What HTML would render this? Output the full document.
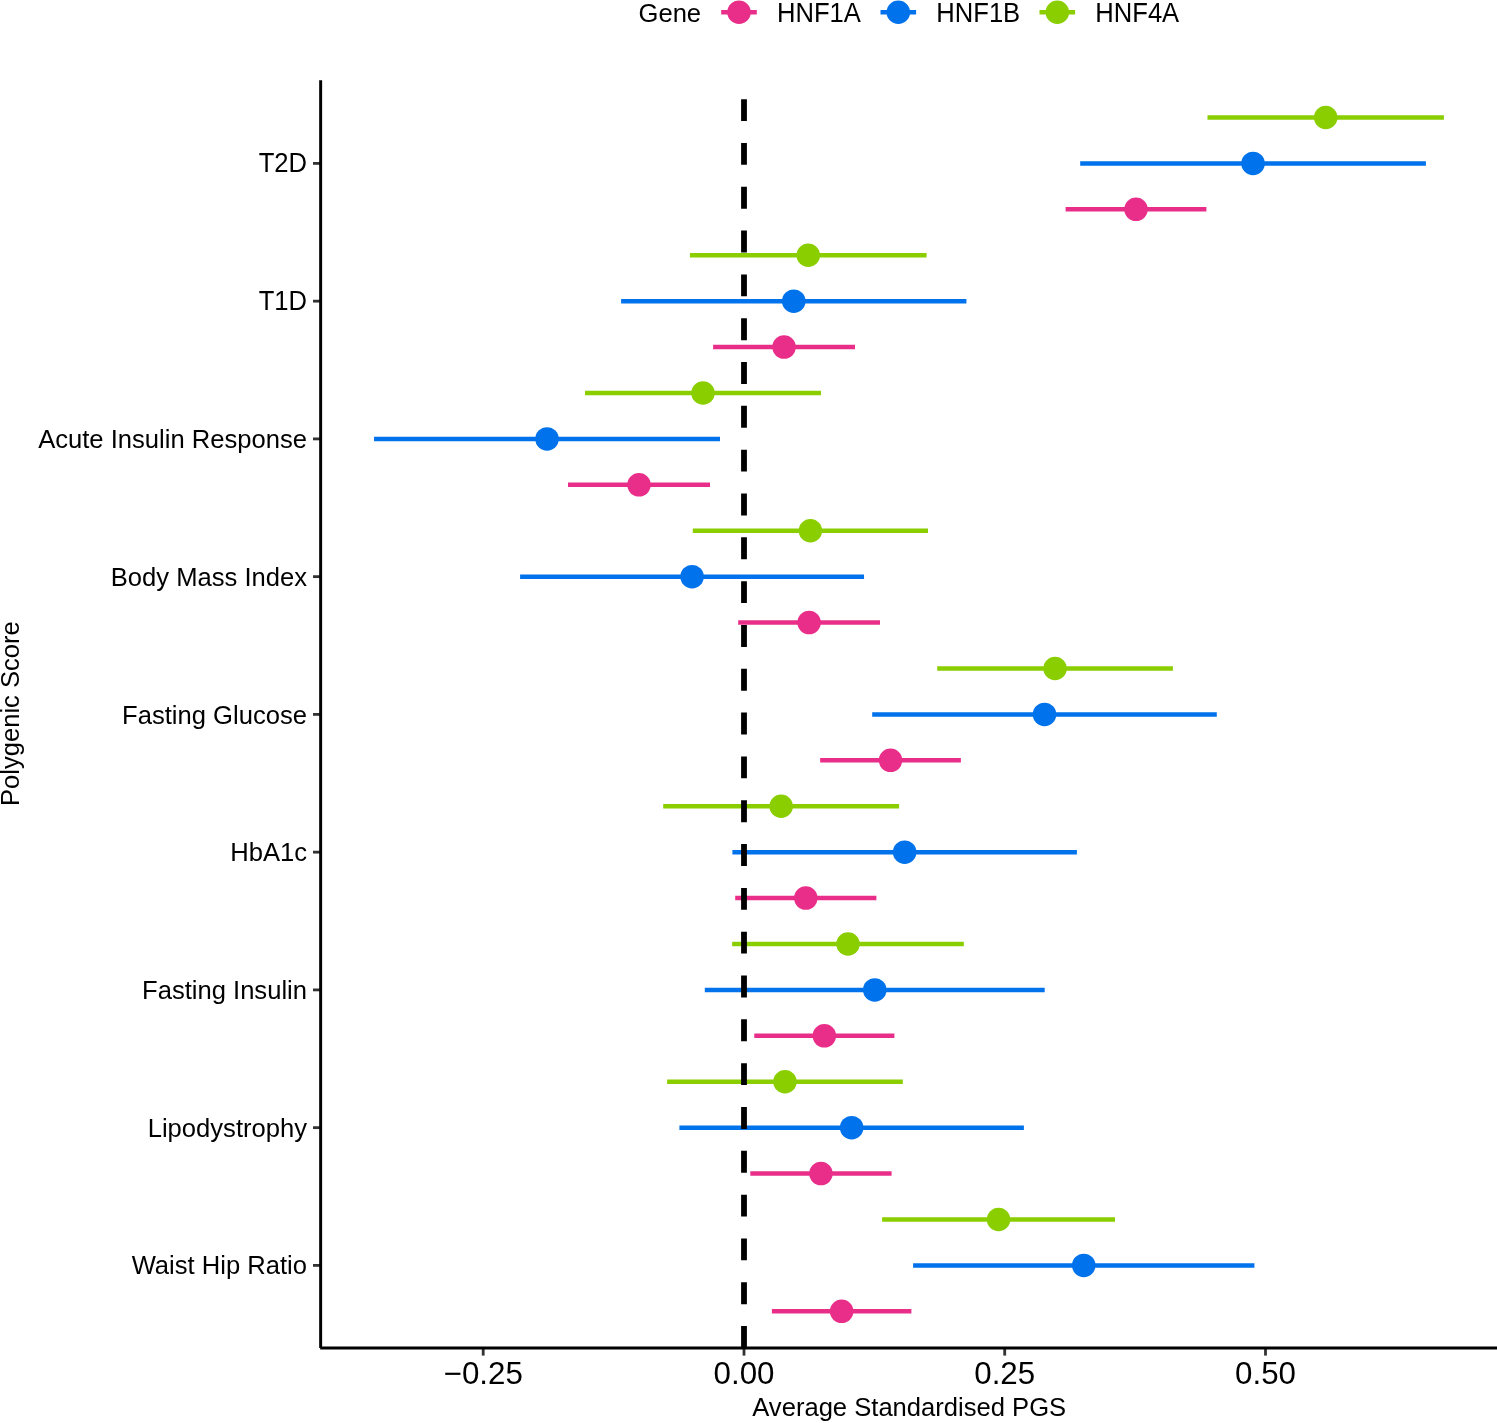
<!DOCTYPE html>
<html><head><meta charset="utf-8"><title>Polygenic Score chart</title>
<style>
html,body{margin:0;padding:0;background:#fff;}
body{width:1497px;height:1423px;overflow:hidden;}
svg{display:block;font-family:"Liberation Sans",sans-serif;will-change:transform;}
</style></head><body>
<svg width="1497" height="1423" viewBox="0 0 1497 1423">
<rect width="1497" height="1423" fill="#fff"/>
<g id="errbars">
<line x1="1207.50" y1="117.48" x2="1443.90" y2="117.48" stroke="#8ACE00" stroke-width="4.5"/>
<line x1="1080.20" y1="163.40" x2="1425.90" y2="163.40" stroke="#0072EB" stroke-width="4.5"/>
<line x1="1065.60" y1="209.32" x2="1206.40" y2="209.32" stroke="#E92E89" stroke-width="4.5"/>
<line x1="689.90" y1="255.23" x2="926.60" y2="255.23" stroke="#8ACE00" stroke-width="4.5"/>
<line x1="621.10" y1="301.15" x2="966.40" y2="301.15" stroke="#0072EB" stroke-width="4.5"/>
<line x1="713.10" y1="347.07" x2="855.00" y2="347.07" stroke="#E92E89" stroke-width="4.5"/>
<line x1="585.05" y1="392.98" x2="821.00" y2="392.98" stroke="#8ACE00" stroke-width="4.5"/>
<line x1="374.05" y1="438.90" x2="720.00" y2="438.90" stroke="#0072EB" stroke-width="4.5"/>
<line x1="568.00" y1="484.82" x2="710.00" y2="484.82" stroke="#E92E89" stroke-width="4.5"/>
<line x1="692.80" y1="530.73" x2="928.00" y2="530.73" stroke="#8ACE00" stroke-width="4.5"/>
<line x1="520.10" y1="576.65" x2="864.05" y2="576.65" stroke="#0072EB" stroke-width="4.5"/>
<line x1="738.20" y1="622.57" x2="880.00" y2="622.57" stroke="#E92E89" stroke-width="4.5"/>
<line x1="937.20" y1="668.48" x2="1172.90" y2="668.48" stroke="#8ACE00" stroke-width="4.5"/>
<line x1="872.20" y1="714.40" x2="1216.80" y2="714.40" stroke="#0072EB" stroke-width="4.5"/>
<line x1="820.15" y1="760.32" x2="960.90" y2="760.32" stroke="#E92E89" stroke-width="4.5"/>
<line x1="663.20" y1="806.23" x2="899.10" y2="806.23" stroke="#8ACE00" stroke-width="4.5"/>
<line x1="732.40" y1="852.15" x2="1076.90" y2="852.15" stroke="#0072EB" stroke-width="4.5"/>
<line x1="735.20" y1="898.07" x2="876.40" y2="898.07" stroke="#E92E89" stroke-width="4.5"/>
<line x1="732.20" y1="943.98" x2="963.80" y2="943.98" stroke="#8ACE00" stroke-width="4.5"/>
<line x1="704.80" y1="989.90" x2="1044.70" y2="989.90" stroke="#0072EB" stroke-width="4.5"/>
<line x1="754.30" y1="1035.82" x2="894.40" y2="1035.82" stroke="#E92E89" stroke-width="4.5"/>
<line x1="667.10" y1="1081.73" x2="902.80" y2="1081.73" stroke="#8ACE00" stroke-width="4.5"/>
<line x1="679.40" y1="1127.65" x2="1023.90" y2="1127.65" stroke="#0072EB" stroke-width="4.5"/>
<line x1="750.30" y1="1173.57" x2="891.60" y2="1173.57" stroke="#E92E89" stroke-width="4.5"/>
<line x1="882.10" y1="1219.48" x2="1115.00" y2="1219.48" stroke="#8ACE00" stroke-width="4.5"/>
<line x1="913.10" y1="1265.40" x2="1254.40" y2="1265.40" stroke="#0072EB" stroke-width="4.5"/>
<line x1="771.90" y1="1311.32" x2="911.40" y2="1311.32" stroke="#E92E89" stroke-width="4.5"/>
</g>
<line x1="744" y1="1348" x2="744" y2="80.2" stroke="#000" stroke-width="5.8" stroke-dasharray="21.91 21.91"/>
<g id="points">
<circle cx="1325.70" cy="117.48" r="11.75" fill="#8ACE00"/>
<circle cx="1253.05" cy="163.40" r="11.75" fill="#0072EB"/>
<circle cx="1136.00" cy="209.32" r="11.75" fill="#E92E89"/>
<circle cx="808.25" cy="255.23" r="11.75" fill="#8ACE00"/>
<circle cx="793.75" cy="301.15" r="11.75" fill="#0072EB"/>
<circle cx="784.05" cy="347.07" r="11.75" fill="#E92E89"/>
<circle cx="703.02" cy="392.98" r="11.75" fill="#8ACE00"/>
<circle cx="547.02" cy="438.90" r="11.75" fill="#0072EB"/>
<circle cx="639.00" cy="484.82" r="11.75" fill="#E92E89"/>
<circle cx="810.40" cy="530.73" r="11.75" fill="#8ACE00"/>
<circle cx="692.08" cy="576.65" r="11.75" fill="#0072EB"/>
<circle cx="809.10" cy="622.57" r="11.75" fill="#E92E89"/>
<circle cx="1055.05" cy="668.48" r="11.75" fill="#8ACE00"/>
<circle cx="1044.50" cy="714.40" r="11.75" fill="#0072EB"/>
<circle cx="890.52" cy="760.32" r="11.75" fill="#E92E89"/>
<circle cx="781.15" cy="806.23" r="11.75" fill="#8ACE00"/>
<circle cx="904.65" cy="852.15" r="11.75" fill="#0072EB"/>
<circle cx="805.80" cy="898.07" r="11.75" fill="#E92E89"/>
<circle cx="848.00" cy="943.98" r="11.75" fill="#8ACE00"/>
<circle cx="874.75" cy="989.90" r="11.75" fill="#0072EB"/>
<circle cx="824.35" cy="1035.82" r="11.75" fill="#E92E89"/>
<circle cx="784.95" cy="1081.73" r="11.75" fill="#8ACE00"/>
<circle cx="851.65" cy="1127.65" r="11.75" fill="#0072EB"/>
<circle cx="820.95" cy="1173.57" r="11.75" fill="#E92E89"/>
<circle cx="998.55" cy="1219.48" r="11.75" fill="#8ACE00"/>
<circle cx="1083.75" cy="1265.40" r="11.75" fill="#0072EB"/>
<circle cx="841.65" cy="1311.32" r="11.75" fill="#E92E89"/>
</g>
<g stroke="#333" stroke-width="2.8">
<line x1="313" y1="163.40" x2="320.65" y2="163.40"/>
<line x1="313" y1="301.15" x2="320.65" y2="301.15"/>
<line x1="313" y1="438.90" x2="320.65" y2="438.90"/>
<line x1="313" y1="576.65" x2="320.65" y2="576.65"/>
<line x1="313" y1="714.40" x2="320.65" y2="714.40"/>
<line x1="313" y1="852.15" x2="320.65" y2="852.15"/>
<line x1="313" y1="989.90" x2="320.65" y2="989.90"/>
<line x1="313" y1="1127.65" x2="320.65" y2="1127.65"/>
<line x1="313" y1="1265.40" x2="320.65" y2="1265.40"/>
<line x1="483.2" y1="1348" x2="483.2" y2="1355.6"/>
<line x1="744.0" y1="1348" x2="744.0" y2="1355.6"/>
<line x1="1004.7" y1="1348" x2="1004.7" y2="1355.6"/>
<line x1="1265.5" y1="1348" x2="1265.5" y2="1355.6"/>
</g>
<line x1="320.65" y1="80.2" x2="320.65" y2="1348.0" stroke="#000" stroke-width="2.96"/>
<line x1="320.2" y1="1348" x2="1497" y2="1348" stroke="#000" stroke-width="2.96"/>
<g font-size="25.6" fill="#000">
<text transform="translate(307,172) scale(1,1.05)" text-anchor="end">T2D</text>
<text transform="translate(307,310) scale(1,1.05)" text-anchor="end">T1D</text>
<text transform="translate(307,448) scale(1,1.02)" text-anchor="end">Acute Insulin Response</text>
<text transform="translate(307,586) scale(1,1.02)" text-anchor="end">Body Mass Index</text>
<text transform="translate(307,723.6) scale(1,1.02)" text-anchor="end">Fasting Glucose</text>
<text transform="translate(307,861) scale(1,1.02)" text-anchor="end">HbA1c</text>
<text transform="translate(307,999) scale(1,1.02)" text-anchor="end">Fasting Insulin</text>
<text transform="translate(307,1137) scale(1,1.02)" text-anchor="end">Lipodystrophy</text>
<text transform="translate(307,1274) scale(1,1.02)" text-anchor="end">Waist Hip Ratio</text>
</g>
<g font-size="31.3" fill="#000">
<text transform="translate(483.2,1384.0) scale(1,1.0)" text-anchor="middle">−0.25</text>
<text transform="translate(744.0,1384.0) scale(1,1.0)" text-anchor="middle">0.00</text>
<text transform="translate(1004.7,1384.0) scale(1,1.0)" text-anchor="middle">0.25</text>
<text transform="translate(1265.5,1384.0) scale(1,1.0)" text-anchor="middle">0.50</text>
</g>
<text transform="translate(909.2,1416.4) scale(1,1.02)" font-size="25.6" text-anchor="middle">Average Standardised PGS</text>
<text transform="translate(18.9,713.6) rotate(-90) scale(1,1.02)" font-size="25.6" text-anchor="middle">Polygenic Score</text>
<g font-size="25.6" fill="#000">
<text transform="translate(638.5,22.0) scale(1,1.02)">Gene</text>
<line x1="721.20" y1="12.2" x2="756.80" y2="12.2" stroke="#E92E89" stroke-width="4.5"/>
<circle cx="739" cy="12.2" r="11.75" fill="#E92E89"/>
<text transform="translate(777.00,22.0) scale(1,1.05)">HNF1A</text>
<line x1="880.50" y1="12.2" x2="916.10" y2="12.2" stroke="#0072EB" stroke-width="4.5"/>
<circle cx="898.3" cy="12.2" r="11.75" fill="#0072EB"/>
<text transform="translate(936.30,22.0) scale(1,1.05)">HNF1B</text>
<line x1="1039.50" y1="12.2" x2="1075.10" y2="12.2" stroke="#8ACE00" stroke-width="4.5"/>
<circle cx="1057.3" cy="12.2" r="11.75" fill="#8ACE00"/>
<text transform="translate(1095.30,22.0) scale(1,1.05)">HNF4A</text>
</g>
</svg>
</body></html>
